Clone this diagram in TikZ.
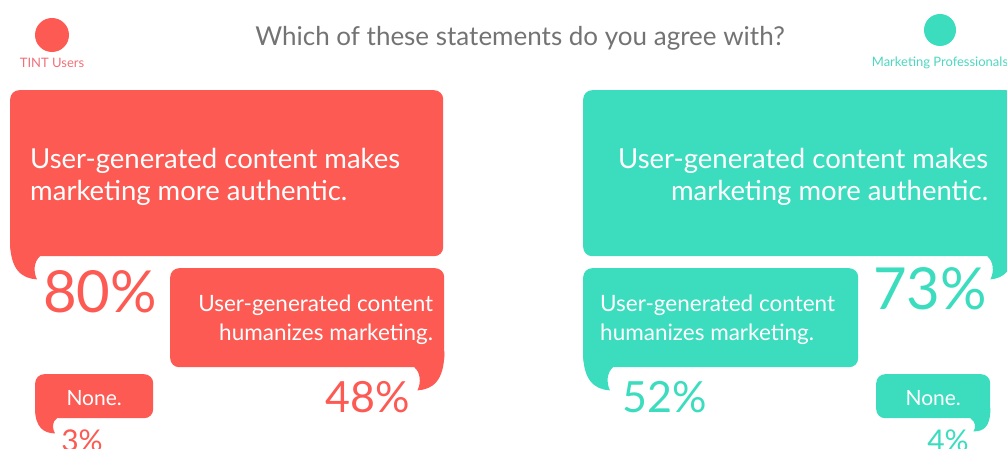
\documentclass[tikz,border=0pt]{standalone}
\usepackage{fontspec}
\setmainfont{Lato}
\usetikzlibrary{positioning,calc}
\definecolor{tintred}{HTML}{FC5A53}
\definecolor{proteal}{HTML}{3CDDBF}
\definecolor{titlegray}{HTML}{737373}
\definecolor{tintlabel}{HTML}{F0707A}
\definecolor{prolabel}{HTML}{4ED6C0}

\begin{document}
\begin{tikzpicture}[x=1pt,y=-1pt,
  bubble/.style={rounded corners=9pt,inner sep=0pt,anchor=north west},
  bigtext/.style={text=white,inner sep=0pt,font=\fontsize{27.5}{32}\selectfont},
  midtext/.style={text=white,inner sep=0pt,font=\fontsize{22.5}{29}\selectfont},
  smalltext/.style={text=white,inner sep=0pt,font=\fontsize{21}{24}\selectfont},
  pct/.style={font=\fontsize{#1}{#1}\selectfont}]
\useasboundingbox (0,0) rectangle (1007,449);
\clip (0,0) rectangle (1007,449);

% legend and title
\fill[tintred] (52,35) circle (17);
\node[text=tintlabel,font=\fontsize{13}{15}\selectfont] (tintlbl) at (52,63) {TINT Users};
\fill[proteal] (940,30) circle (16);
\node[text=prolabel,font=\fontsize{13}{15}\selectfont] (prolbl) at (940,63) {Marketing Professionals};
\node[text=titlegray,font=\fontsize{26}{30}\selectfont] (title) at (520,38) {Which of these statements do you agree with?};

% TINT users
\node[bubble,fill=tintred,minimum width=433,minimum height=166] (redbig) at (10,90) {};
\node[bigtext,align=left,anchor=west] (redbigtxt) at ($(redbig.west)+(20,4)$)
  {User-generated content makes\\marketing more authentic.};
\fill[tintred] ($(redbig.south west)+(0,-16)$) .. controls ($(redbig.south west)+(0,14)$) and ($(redbig.south west)+(12,22)$) .. ($(redbig.south west)+(27,23)$) .. controls ($(redbig.south west)+(23,15)$) and ($(redbig.south west)+(24,5)$) .. ($(redbig.south west)+(30,0)$) -- cycle;
\node[pct=58,text=tintred] (redbigpct) at (100,292) {80\%};

\node[bubble,fill=tintred,minimum width=274,minimum height=99] (redmid) at (170,268) {};
\node[midtext,align=right,anchor=east] (redmidtxt) at ($(redmid.east)+(-11,2)$)
  {User-generated content\\humanizes marketing.};
\fill[tintred] ($(redmid.south east)+(0,-16)$) .. controls ($(redmid.south east)+(0,14)$) and ($(redmid.south east)+(-12,22)$) .. ($(redmid.south east)+(-27,23)$) .. controls ($(redmid.south east)+(-23,15)$) and ($(redmid.south east)+(-24,5)$) .. ($(redmid.south east)+(-30,0)$) -- cycle;
\node[pct=43,text=tintred] (redmidpct) at (368,397) {48\%};

\node[bubble,fill=tintred,minimum width=118,minimum height=44] (rednone) at (35,374) {};
\node[smalltext] (rednonetxt) at ($(rednone.center)+(0,2)$) {None.};
\fill[tintred] ($(rednone.south west)+(0,-10)$) .. controls ($(rednone.south west)+(0,9)$) and ($(rednone.south west)+(9,15)$) .. ($(rednone.south west)+(20,15)$) .. controls ($(rednone.south west)+(17,10)$) and ($(rednone.south west)+(17,3)$) .. ($(rednone.south west)+(22,0)$) -- cycle;
\node[pct=30,text=tintred] (rednonepct) at (82,441) {3\%};

% marketing professionals
\node[bubble,fill=proteal,minimum width=432,minimum height=166] (tealbig) at (583,90) {};
\node[bigtext,align=right,anchor=east] (tealbigtxt) at ($(tealbig.east)+(-27,4)$)
  {User-generated content makes\\marketing more authentic.};
\fill[proteal] ($(tealbig.south east)+(0,-16)$) .. controls ($(tealbig.south east)+(0,14)$) and ($(tealbig.south east)+(-12,22)$) .. ($(tealbig.south east)+(-25,23)$) .. controls ($(tealbig.south east)+(-21,15)$) and ($(tealbig.south east)+(-22,5)$) .. ($(tealbig.south east)+(-28,0)$) -- cycle;
\node[pct=58,text=proteal] (tealbigpct) at (930,289) {73\%};

\node[bubble,fill=proteal,minimum width=275,minimum height=99] (tealmid) at (583,268) {};
\node[midtext,align=left,anchor=west] (tealmidtxt) at ($(tealmid.west)+(17,2)$)
  {User-generated content\\humanizes marketing.};
\fill[proteal] ($(tealmid.south west)+(0,-16)$) .. controls ($(tealmid.south west)+(0,14)$) and ($(tealmid.south west)+(12,22)$) .. ($(tealmid.south west)+(27,23)$) .. controls ($(tealmid.south west)+(23,15)$) and ($(tealmid.south west)+(24,5)$) .. ($(tealmid.south west)+(30,0)$) -- cycle;
\node[pct=43,text=proteal] (tealmidpct) at (665,397) {52\%};

\node[bubble,fill=proteal,minimum width=114,minimum height=44] (tealnone) at (876,374) {};
\node[smalltext] (tealnonetxt) at ($(tealnone.center)+(0,2)$) {None.};
\fill[proteal] ($(tealnone.south east)+(0,-10)$) .. controls ($(tealnone.south east)+(0,9)$) and ($(tealnone.south east)+(-7,13)$) .. ($(tealnone.south east)+(-17,13)$) .. controls ($(tealnone.south east)+(-14,9)$) and ($(tealnone.south east)+(-15,3)$) .. ($(tealnone.south east)+(-20,0)$) -- cycle;
\node[pct=30,text=proteal] (tealnonepct) at (948,441) {4\%};
\end{tikzpicture}
\end{document}
